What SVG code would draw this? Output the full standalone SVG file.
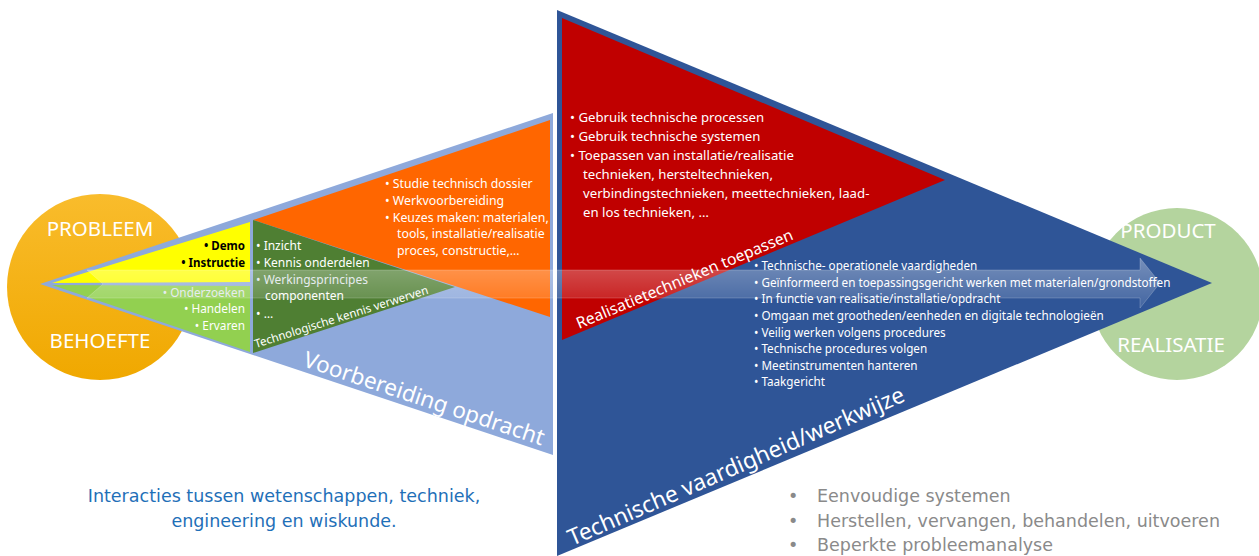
<svg xmlns="http://www.w3.org/2000/svg" width="1259" height="556" viewBox="0 0 1259 556">
<defs>
<style>
.t{font-family:"Noto Sans","Open Sans","Liberation Sans",sans-serif;fill:#fff}
.b{font-weight:bold}
.big{font-family:"Noto Sans","Open Sans","Liberation Sans",sans-serif;fill:#fff;font-size:20.5px}
.tah{font-family:"DejaVu Sans","Liberation Sans",sans-serif;font-size:17.5px}
</style>
<linearGradient id="og" x1="0" y1="0" x2="0" y2="1">
<stop offset="0" stop-color="#F9BC2C"/>
<stop offset="1" stop-color="#F0A800"/>
</linearGradient>
<linearGradient id="bar" x1="0" y1="0" x2="0" y2="1">
<stop offset="0" stop-color="#fff" stop-opacity="0.34"/>
<stop offset="0.5" stop-color="#fff" stop-opacity="0.22"/>
<stop offset="1" stop-color="#fff" stop-opacity="0.1"/>
</linearGradient>
</defs>
<rect width="1259" height="556" fill="#fff"/>

<g id="circle-probleem">
<circle cx="100" cy="287" r="93" fill="url(#og)"/>
</g>
<g id="circle-product">
<circle cx="1177" cy="294" r="86" fill="#B4D49E"/>
</g>

<g id="voorbereiding">
<polygon points="40,284 553,113 553,455" fill="#8EA9DB"/>
<polygon points="253,220 550,120 550,317" fill="#FF6600"/>
<polygon points="253,220 455,287 253,353" fill="#4F7F33"/>
<polygon points="52,283 250,222 250,282" fill="#FFFF00"/>
<polygon points="52,285 250,286 250,352" fill="#92D050"/>
</g>

<g id="realisatie">
<polygon points="557,10 1212,283 557,556" fill="#2F5597"/>
<polygon points="562,18 945,180 562,340" fill="#C00000"/>
</g>

<g id="connectors">
<polygon points="87,270 1140,270 1140,258 1160,283 1140,308 1140,298 87,298 103,284" fill="url(#bar)" stroke="#fff" stroke-opacity="0.2" stroke-width="1"/>
</g>

<g id="labels-circles">
<text class="big" x="100" y="236" text-anchor="middle">PROBLEEM</text>
<text class="big" x="100" y="348" text-anchor="middle">BEHOEFTE</text>
<text class="big" x="1168" y="238" text-anchor="middle">PRODUCT</text>
<text class="big" x="1171" y="352" text-anchor="middle">REALISATIE</text>
</g>

<g id="yellow-text" class="t b" font-size="11.5">
<text x="245" y="250" text-anchor="end" style="fill:#000">• Demo</text>
<text x="245" y="267" text-anchor="end" style="fill:#000">• Instructie</text>
</g>
<g id="lightgreen-text" class="t" font-size="11.8">
<text x="245" y="297" text-anchor="end" style="fill:#e6ecef">• Onderzoeken</text>
<text x="245" y="313" text-anchor="end">• Handelen</text>
<text x="245" y="330" text-anchor="end">• Ervaren</text>
</g>
<g id="darkgreen-text" class="t" font-size="12">
<text x="256" y="250">• Inzicht</text>
<text x="256" y="267">• Kennis onderdelen</text>
<text x="256" y="284" style="fill:#e6ecef">• Werkingsprincipes</text>
<text x="265" y="300">componenten</text>
<text x="256" y="318">• …</text>
</g>
<text class="t" x="256" y="348" font-size="11.5" transform="rotate(-17.5 256 348)">Technologische kennis verwerven</text>
<g id="orange-text" class="t" font-size="12.3">
<text x="385" y="188">• Studie technisch dossier</text>
<text x="385" y="205">• Werkvoorbereiding</text>
<text x="385" y="222">• Keuzes maken: materialen,</text>
<text x="397" y="238">tools, installatie/realisatie</text>
<text x="397" y="255">proces, constructie,…</text>
</g>
<text class="t" x="302" y="366" font-size="22.5" transform="rotate(18.4 302 366)">Voorbereiding opdracht</text>

<g id="red-text" class="t" font-size="13.2">
<text x="570" y="122">• Gebruik technische processen</text>
<text x="570" y="141">• Gebruik technische systemen</text>
<text x="570" y="160">• Toepassen van installatie/realisatie</text>
<text x="583" y="179">technieken, hersteltechnieken,</text>
<text x="583" y="198">verbindingstechnieken, meettechnieken, laad-</text>
<text x="583" y="217">en los technieken, …</text>
</g>
<text class="t" x="579" y="329" font-size="15.8" transform="rotate(-22.7 579 329)">Realisatietechnieken toepassen</text>

<g id="blue-text" class="t" font-size="11.7">
<text x="754" y="270">• Technische- operationele vaardigheden</text>
<text x="754" y="287">• Geïnformeerd en toepassingsgericht werken met materialen/grondstoffen</text>
<text x="754" y="303">• In functie van realisatie/installatie/opdracht</text>
<text x="754" y="320">• Omgaan met grootheden/eenheden en digitale technologieën</text>
<text x="754" y="337">• Veilig werken volgens procedures</text>
<text x="754" y="353">• Technische procedures volgen</text>
<text x="754" y="370">• Meetinstrumenten hanteren</text>
<text x="754" y="386">• Taakgericht</text>
</g>
<text class="t" x="572" y="546" font-size="22.8" transform="rotate(-23.5 572 546)">Technische vaardigheid/werkwijze</text>

<g id="note-left" class="tah" fill="#1F70B8">
<text x="284" y="502" text-anchor="middle">Interacties tussen wetenschappen, techniek,</text>
<text x="284" y="527" text-anchor="middle">engineering en wiskunde.</text>
</g>
<g id="note-right" class="tah" fill="#8A8A8A">
<text x="788" y="502">•</text><text x="817" y="502">Eenvoudige systemen</text>
<text x="788" y="527">•</text><text x="817" y="527">Herstellen, vervangen, behandelen, uitvoeren</text>
<text x="788" y="551">•</text><text x="817" y="551">Beperkte probleemanalyse</text>
</g>
</svg>
